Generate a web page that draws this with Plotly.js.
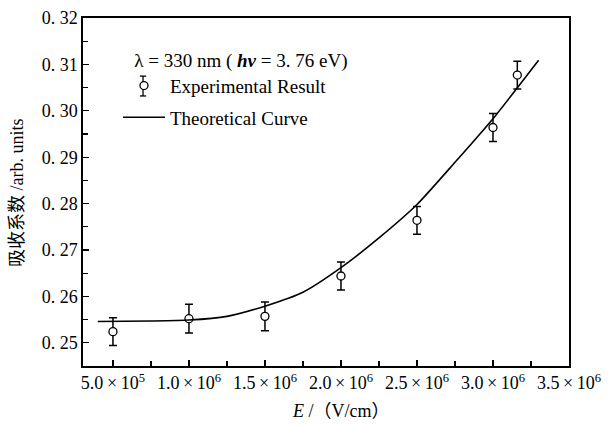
<!DOCTYPE html>
<html><head><meta charset="utf-8">
<script src="https://cdn.plot.ly/plotly-3.0.1.min.js"></script>
<style>html,body{margin:0;padding:0;background:#fff}#chart{width:611px;height:426px}</style>
</head><body><div id="chart"></div>
<script>
// Experimental data
const expE = [5.0e5, 1.0e6, 1.5e6, 2.0e6, 2.5e6, 3.0e6, 3.16e6];
const expAbs = [0.2524, 0.2552, 0.2557, 0.2644, 0.2764, 0.2964, 0.3077];
const expErr = [0.0030, 0.0031, 0.0031, 0.0030, 0.0030, 0.0030, 0.0030];
// Theoretical curve
const theoE = [4.0e5, 7.5e5, 1.0e6, 1.25e6, 1.5e6, 1.75e6, 2.0e6, 2.25e6, 2.5e6, 2.75e6, 3.0e6, 3.3e6];
const theoAbs = [0.2546, 0.2547, 0.2549, 0.2557, 0.2579, 0.2609, 0.2662, 0.2726, 0.2798, 0.2889, 0.2983, 0.3109];
// Tick labels
const xTickVals = [5.0e5, 1.0e6, 1.5e6, 2.0e6, 2.5e6, 3.0e6, 3.5e6];
const xTickText = ["5.0\u2009×\u200910<sup>5</sup>", "1.0\u2009×\u200910<sup>6</sup>", "1.5\u2009×\u200910<sup>6</sup>", "2.0\u2009×\u200910<sup>6</sup>", "2.5\u2009×\u200910<sup>6</sup>", "3.0\u2009×\u200910<sup>6</sup>", "3.5\u2009×\u200910<sup>6</sup>"];
const yTickVals = [0.25, 0.26, 0.27, 0.28, 0.29, 0.30, 0.31, 0.32];
const yTickText = ["0.\u00a025", "0.\u00a026", "0.\u00a027", "0.\u00a028", "0.\u00a029", "0.\u00a030", "0.\u00a031", "0.\u00a032"];

const serif = "'Liberation Serif', 'Times New Roman', 'Noto Sans CJK SC', serif";

const traces = [
  {
    x: expE, y: expAbs, type: 'scatter', mode: 'markers', name: 'Experimental Result',
    legendgroup: 'a',
    marker: {symbol: 'circle', size: 8, color: '#fff', line: {width: 1.3, color: '#000'}},
    error_y: {type: 'data', array: expErr, visible: true, color: '#000', thickness: 1.5, width: 4}
  },
  {
    x: theoE, y: theoAbs, type: 'scatter', mode: 'lines', name: 'Theoretical Curve',
    legendgroup: 'b',
    line: {color: '#000', width: 1.6, shape: 'spline', smoothing: 0.6}
  }
];

// legend icon error bar (decoration next to the legend marker), paper coordinates
const legBarX = 0.1235, legBarTop = 0.833, legBarBot = 0.776, legCapHalf = 0.0065;

const layout = {
  width: 611, height: 426,
  margin: {l: 83, r: 42, t: 18, b: 60},
  paper_bgcolor: '#fff', plot_bgcolor: '#fff',
  font: {family: serif, color: '#000', size: 18},
  showlegend: true,
  legend: {
    x: 0.072, y: 0.931, xanchor: 'left', yanchor: 'top',
    bgcolor: 'rgba(0,0,0,0)', borderwidth: 0,
    font: {family: serif, size: 19, color: '#000'},
    title: {text: '\u00a0\u00a0\u00a0λ = 330 nm ( <i><b>hν</b></i> = 3.\u00a076 eV)', font: {family: serif, size: 19, color: '#000'}},
    itemwidth: 42, traceorder: 'grouped', tracegroupgap: 4
  },
  shapes: [
    {type: 'line', xref: 'paper', yref: 'paper', x0: legBarX, x1: legBarX, y0: legBarBot, y1: legBarTop, line: {color: '#000', width: 1.3}},
    {type: 'line', xref: 'paper', yref: 'paper', x0: legBarX - legCapHalf, x1: legBarX + legCapHalf, y0: legBarTop, y1: legBarTop, line: {color: '#000', width: 1.3}},
    {type: 'line', xref: 'paper', yref: 'paper', x0: legBarX - legCapHalf, x1: legBarX + legCapHalf, y0: legBarBot, y1: legBarBot, line: {color: '#000', width: 1.3}}
  ],
  xaxis: {
    range: [3.03e5, 3.5e6],
    tickmode: 'array', tickvals: xTickVals, ticktext: xTickText,
    ticks: 'inside', ticklen: 6, tickwidth: 1.2, tickcolor: '#000',
    minor: {tickmode: 'linear', tick0: 2.5e5, dtick: 5e5, ticks: 'inside', ticklen: 5, tickwidth: 1.2, tickcolor: '#000', showgrid: false},
    showline: true, linewidth: 1.6, linecolor: '#000', mirror: true,
    showgrid: false, zeroline: false,
    tickfont: {family: serif, size: 18, color: '#000'}
  },
  yaxis: {
    range: [0.245, 0.32],
    tickmode: 'array', tickvals: yTickVals, ticktext: yTickText,
    ticks: 'inside', ticklen: 6, tickwidth: 1.2, tickcolor: '#000',
    minor: {tickmode: 'linear', tick0: 0.245, dtick: 0.01, ticks: 'inside', ticklen: 5, tickwidth: 1.2, tickcolor: '#000', showgrid: false},
    showline: true, linewidth: 1.6, linecolor: '#000', mirror: true,
    showgrid: false, zeroline: false,
    tickfont: {family: serif, size: 18, color: '#000'}
  },
  annotations: [
    {text: '<i>E</i> /（V/cm）', xref: 'paper', yref: 'paper', x: 0.531, y: -0.129, xanchor: 'center', yanchor: 'middle',
     showarrow: false, font: {family: serif, size: 18, color: '#000'}},
    {text: '吸收系数 /arb. units', xref: 'paper', yref: 'paper', x: -0.136, y: 0.5, xanchor: 'center', yanchor: 'middle',
     textangle: -90, showarrow: false, font: {family: serif, size: 18, color: '#000'}}
  ]
};

Plotly.newPlot('chart', traces, layout, {displayModeBar: false, staticPlot: true});
</script>
</body></html>
